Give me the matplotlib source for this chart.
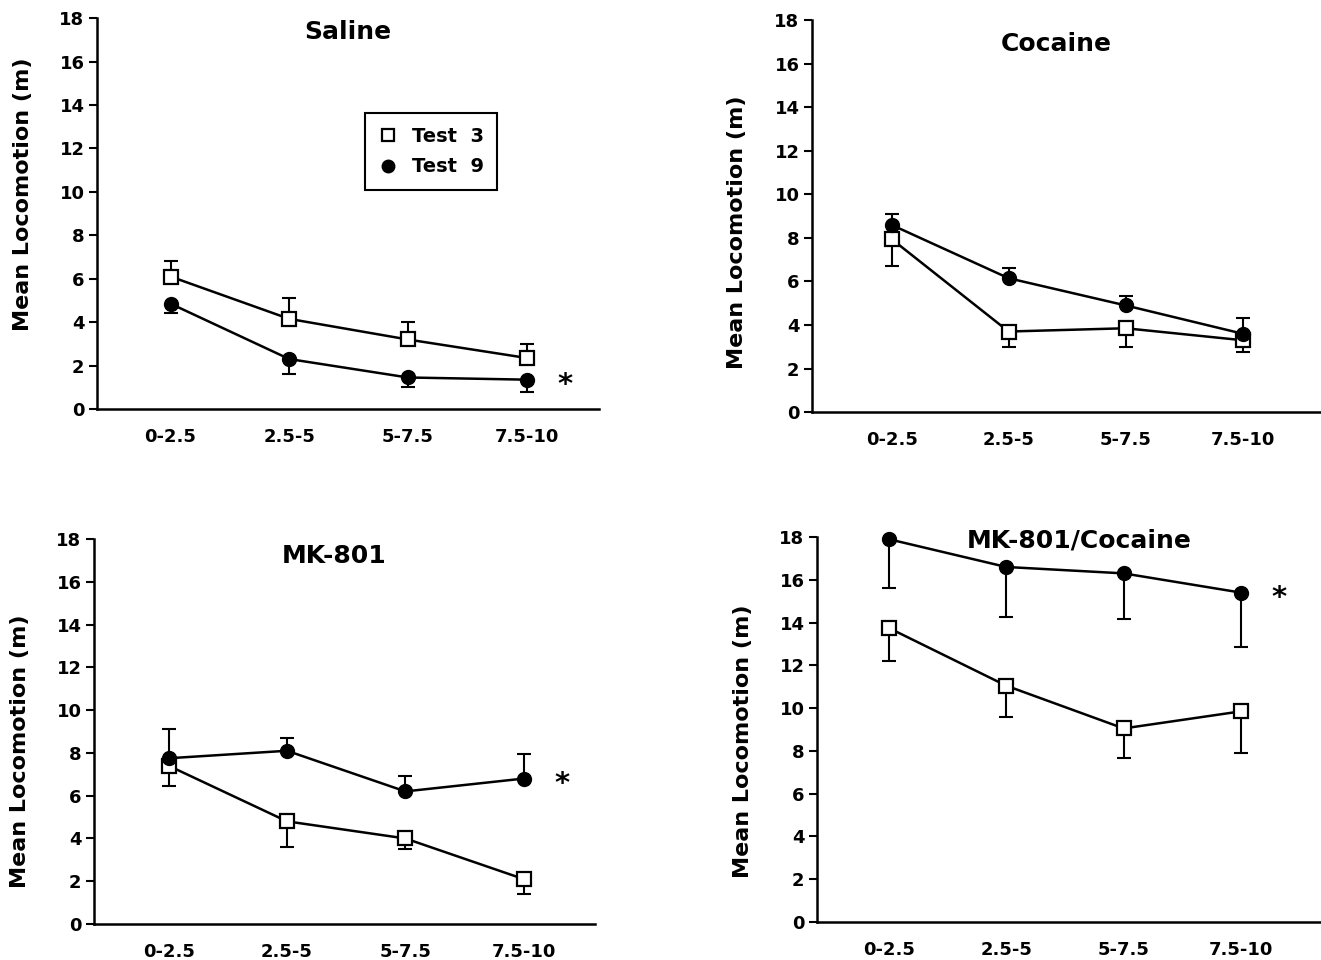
import matplotlib
matplotlib.use("Agg")
import matplotlib.pyplot as plt
import numpy as np

plt.rcParams["font.family"] = ["DejaVu Sans"]
plt.rcParams["font.weight"] = "bold"

# time bins (min)
cats = ["0-2.5", "2.5-5", "5-7.5", "7.5-10"]

# means and the end of each (one-sided) error bar
saline_t3 = [6.1, 4.15, 3.2, 2.35]
saline_t3_err = [6.8, 5.1, 4.0, 3.0]
saline_t9 = [4.85, 2.3, 1.45, 1.35]
saline_t9_err = [4.4, 1.6, 1.0, 0.8]

cocaine_t3 = [7.95, 3.7, 3.85, 3.3]
cocaine_t3_err = [6.7, 3.0, 3.0, 2.75]
cocaine_t9 = [8.6, 6.15, 4.9, 3.6]
cocaine_t9_err = [9.1, 6.6, 5.35, 4.3]

mk_t3 = [7.4, 4.8, 4.0, 2.1]
mk_t3_err = [6.45, 3.6, 3.5, 1.4]
mk_t9 = [7.75, 8.1, 6.2, 6.8]
mk_t9_err = [9.1, 8.7, 6.9, 7.95]

mkc_t3 = [13.75, 11.05, 9.05, 9.85]
mkc_t3_err = [12.2, 9.6, 7.65, 7.9]
mkc_t9 = [17.9, 16.6, 16.3, 15.4]
mkc_t9_err = [15.6, 14.25, 14.15, 12.85]

fig = plt.figure(figsize=(13.21, 9.6), dpi=100)

# panel: (rect, title, title pos, xlim, ylabel y, star, data)
panels = [
    ([0.0734, 0.574, 0.380, 0.407], "Saline", (0.50, 0.965), (-0.62, 3.61), 0.55, True,
     saline_t3, saline_t3_err, saline_t9, saline_t9_err),
    ([0.6147, 0.5708, 0.3853, 0.408], "Cocaine", (0.48, 0.94), (-0.68, 3.67), 0.46, False,
     cocaine_t3, cocaine_t3_err, cocaine_t9, cocaine_t9_err),
    ([0.0712, 0.0375, 0.379, 0.401], "MK-801", (0.48, 0.955), (-0.63, 3.60), 0.45, True,
     mk_t3, mk_t3_err, mk_t9, mk_t9_err),
    ([0.6185, 0.0396, 0.3815, 0.401], "MK-801/Cocaine", (0.52, 0.99), (-0.61, 3.68), 0.47, True,
     mkc_t3, mkc_t3_err, mkc_t9, mkc_t9_err),
]


def one_sided(mean, end):
    mean = np.asarray(mean)
    end = np.asarray(end)
    lo = np.where(end < mean, mean - end, 0)
    hi = np.where(end > mean, end - mean, 0)
    return [lo, hi]


x = np.arange(len(cats))
for i, (rect, title, tpos, xlim, ly, star, t3, t3e, t9, t9e) in enumerate(panels):
    ax = fig.add_axes(rect)
    for mean, end in ((t3, t3e), (t9, t9e)):
        ax.errorbar(x, mean, yerr=one_sided(mean, end), fmt="none", ecolor="black",
                    elinewidth=1.5, capsize=5, capthick=1.5, zorder=2)
    ax.plot(x, t3, color="black", lw=1.8, marker="s", ms=10, mfc="white",
            mec="black", mew=1.6, zorder=3, label="Test 3", clip_on=False)
    ax.plot(x, t9, color="black", lw=1.8, marker="o", ms=10, mfc="black",
            mec="black", zorder=3, label="Test 9", clip_on=False)
    if star:
        ax.annotate("*", (x[-1], t9[-1]), xytext=(22, -4), textcoords="offset points",
                    fontsize=21, fontweight="bold", va="center", ha="left")

    ax.set_xlim(*xlim)
    ax.set_ylim(0, 18)
    ax.set_yticks(range(0, 19, 2))
    ax.set_xticks(x)
    ax.set_xticklabels(cats)
    ax.tick_params(axis="x", length=0, pad=14, labelsize=13)
    ax.tick_params(axis="y", direction="out", length=6, width=1.5, pad=3, labelsize=13)
    for s in ("top", "right"):
        ax.spines[s].set_visible(False)
    for s in ("left", "bottom"):
        ax.spines[s].set_linewidth(1.8)
    ax.set_ylabel("Mean Locomotion (m)", fontsize=16, fontweight="bold")
    ax.yaxis.set_label_coords(-0.128, ly)
    ax.text(tpos[0], tpos[1], title, transform=ax.transAxes, ha="center", va="center",
            fontsize=18, fontweight="bold")

    if i == 0:
        h = [plt.Line2D([], [], ls="none", marker="s", ms=8, mfc="white", mec="black", mew=1.6),
             plt.Line2D([], [], ls="none", marker="o", ms=9, mfc="black", mec="black")]
        leg = ax.legend(h, ["Test  3", "Test  9"], loc="upper left",
                        bbox_to_anchor=(0.534, 0.757), borderaxespad=0, fancybox=False,
                        framealpha=1, edgecolor="black",
                        prop={"size": 14, "weight": "bold"},
                        handlelength=1.0, handletextpad=0.7, borderpad=0.7,
                        labelspacing=0.6)
        leg.get_frame().set_linewidth(1.5)

fig.savefig("out.png", dpi=100)
